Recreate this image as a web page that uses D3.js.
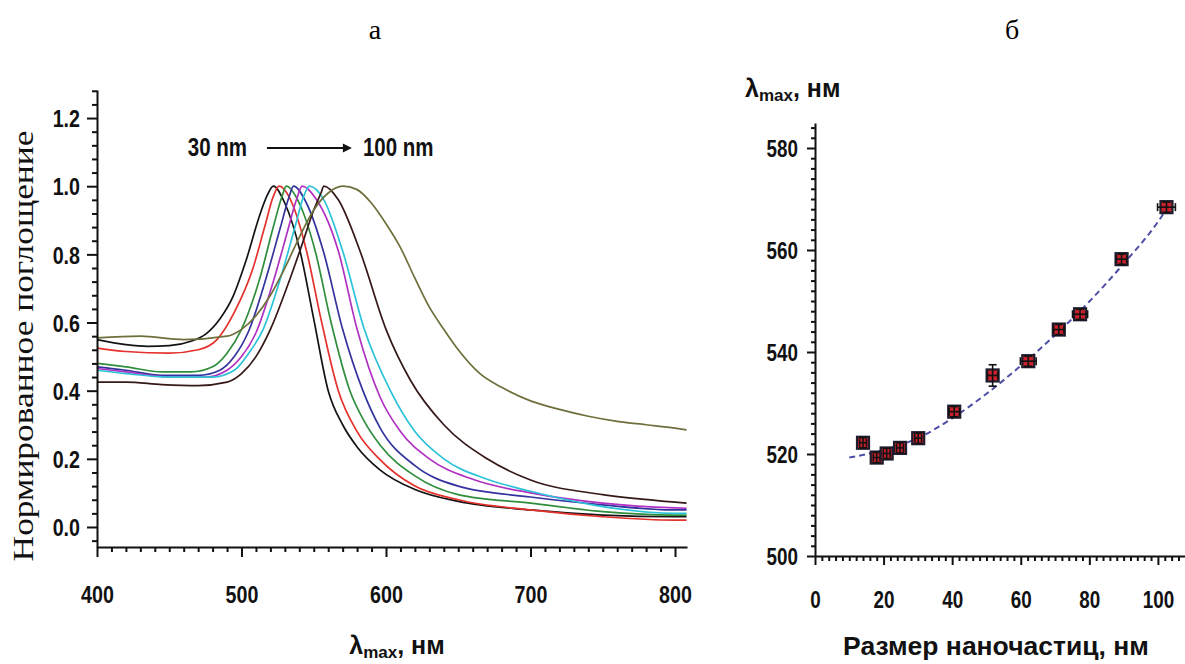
<!DOCTYPE html>
<html><head><meta charset="utf-8">
<script src="https://cdn.jsdelivr.net/npm/d3@7"></script>
<style>body{margin:0;background:#fff}svg{display:block}</style>
</head><body>
<svg id="chart" width="1185" height="664"></svg>
<script>
// ---- Panel a: normalised absorption spectra, [wavelength nm, absorbance] ----
const specBlack = [[400,0.55],[420,0.535],[435,0.53],[450,0.532],[465,0.545],[475,0.565],[485,0.61],[494,0.675],[503,0.78],[513,0.92],[518,0.975],[522,1.0],[530,0.95],[540.5,0.81],[550,0.61],[560,0.40],[570,0.30],[580,0.235],[596,0.167],[620,0.11],[650,0.075],[700,0.05],[750,0.035],[800,0.03],[808,0.03]];
const specRed = [[400,0.525],[420,0.515],[450,0.51],[470,0.52],[483,0.55],[495,0.63],[508,0.76],[516,0.88],[522,0.97],[526,1.0],[535,0.95],[545,0.81],[555,0.61],[567,0.40],[580,0.28],[596,0.197],[620,0.12],[650,0.08],[700,0.05],[750,0.03],[800,0.02],[808,0.02]];
const specGreen = [[400,0.48],[420,0.47],[445,0.455],[465,0.455],[480,0.47],[490,0.51],[500,0.58],[512,0.72],[522,0.88],[528,0.97],[531,1.0],[540,0.95],[551,0.81],[562,0.60],[575,0.40],[585,0.31],[596,0.24],[620,0.15],[650,0.095],[700,0.07],[750,0.045],[800,0.035],[808,0.035]];
const specBlue = [[400,0.47],[420,0.46],[445,0.445],[470,0.445],[485,0.46],[495,0.50],[505,0.575],[517,0.73],[527,0.88],[533,0.97],[536,1.0],[545,0.95],[556.6,0.81],[570,0.58],[584,0.40],[596,0.29],[620,0.18],[650,0.12],[700,0.088],[750,0.065],[800,0.05],[808,0.05]];
const specPurple = [[400,0.465],[420,0.455],[450,0.44],[475,0.44],[490,0.46],[500,0.50],[510,0.57],[522,0.72],[532,0.87],[538,0.96],[542,1.0],[552,0.96],[567,0.81],[580,0.58],[596,0.38],[610,0.28],[630,0.20],[660,0.14],[700,0.10],[750,0.07],[800,0.056],[808,0.055]];
const specCyan = [[400,0.46],[420,0.45],[450,0.44],[480,0.44],[495,0.46],[505,0.51],[515,0.58],[527,0.73],[537,0.88],[543,0.97],[547,1.0],[557,0.96],[570,0.81],[585,0.58],[603,0.40],[620,0.28],[640,0.20],[670,0.14],[700,0.105],[750,0.06],[800,0.04],[808,0.04]];
const specBrown = [[400,0.425],[420,0.425],[445,0.418],[470,0.415],[490,0.425],[500,0.45],[510,0.50],[520,0.58],[532,0.71],[542,0.83],[550,0.93],[555,0.98],[557,1.0],[567,0.96],[582,0.81],[600,0.58],[617,0.43],[640,0.30],[670,0.20],[700,0.138],[750,0.095],[800,0.073],[808,0.07]];
const specOlive = [[400,0.555],[430,0.56],[460,0.55],[490,0.56],[500,0.58],[510,0.62],[520,0.68],[530,0.76],[540,0.85],[550,0.93],[560,0.98],[570,1.0],[580,0.99],[590,0.95],[600,0.89],[610,0.82],[620,0.73],[630,0.645],[640,0.58],[650,0.52],[665,0.45],[680,0.41],[700,0.37],[720,0.345],[740,0.325],[760,0.31],[780,0.30],[800,0.29],[808,0.285]];

const spectra = [specBlack, specRed, specGreen, specBlue, specPurple, specCyan, specBrown, specOlive];
const spectraColors = ["#141414", "#e5312c", "#2f8d3c", "#33339e", "#b031c2", "#2cc3d8", "#361818", "#6f6f3c"];

const xTicksA = [400, 500, 600, 700, 800];
const yTicksA = [0.0, 0.2, 0.4, 0.6, 0.8, 1.0, 1.2];

// ---- Panel б: peak position vs particle size ----
const sizes     = [14.0, 18.0, 20.9, 24.8, 30.1, 40.6, 51.8, 62.2, 71.1, 77.3, 89.4, 102.5];
const peaks     = [522.2, 519.3, 520.1, 521.2, 523.1, 528.3, 535.4, 538.2, 544.4, 547.4, 558.2, 568.4];
const sizeErr   = [1.0, 1.0, 1.0, 1.0, 1.0, 1.5, 1.5, 2.3, 1.5, 2.2, 1.5, 2.6];
const peakErr   = [1.0, 1.0, 1.0, 1.0, 1.0, 1.0, 2.1, 1.0, 1.0, 1.0, 1.0, 1.0];
const fitSizes  = [10, 20, 30, 40, 50, 60, 70, 80, 90, 100, 103];
const fitPeaks  = [519.3, 520.8, 523.1, 527.0, 531.8, 537.3, 543.3, 549.9, 557.3, 565.5, 568.5];

const xTicksB = [0, 20, 40, 60, 80, 100];
const yTicksB = [500, 520, 540, 560, 580];

const svg = d3.select("#chart");
const tickFont = "'Liberation Sans', Arial, sans-serif";
const serif = "'Liberation Serif', 'Times New Roman', serif";

// panel letters
svg.append("text").attr("x", 375).attr("y", 39).attr("text-anchor", "middle")
  .attr("font-family", serif).attr("font-size", 28).text("а");
svg.append("text").attr("x", 1012).attr("y", 39).attr("text-anchor", "middle")
  .attr("font-family", serif).attr("font-size", 28).text("б");

function styleAxis(g) {
  g.selectAll("path, line").attr("stroke", "#111").attr("stroke-width", 2);
}
function condenseX(g, fs, baseline) {
  g.selectAll("text").attr("font-family", tickFont).attr("font-weight", "bold")
    .attr("font-size", fs).attr("fill", "#111")
    .attr("y", baseline).attr("dy", 0).attr("transform", "scale(0.82,1)");
}
function condenseY(g, fs, offset) {
  g.selectAll("text").attr("font-family", tickFont).attr("font-weight", "bold")
    .attr("font-size", fs).attr("fill", "#111")
    .attr("x", -offset / 0.82).attr("dy", "0.36em").attr("transform", "scale(0.82,1)");
}
function range(a, b, s) { const r = []; for (let v = a; v <= b + 1e-9; v += s) r.push(+v.toFixed(4)); return r; }

// ================= Panel a =================
const xA = d3.scaleLinear().domain([400, 808.3]).range([97, 687]);
const yA = d3.scaleLinear().domain([-0.0587, 1.2823]).range([547, 90]);

const gA = svg.append("g");

const lineA = d3.line().x(d => xA(d[0])).y(d => yA(d[1])).curve(d3.curveMonotoneX);
gA.append("g").selectAll("path").data(spectra).join("path")
  .attr("d", lineA).attr("fill", "none")
  .attr("stroke", (d, i) => spectraColors[i]).attr("stroke-width", 1.7)
  .attr("stroke-linejoin", "round");

// minor ticks
gA.append("g").attr("transform", "translate(0,547)")
  .call(d3.axisBottom(xA).tickValues(range(410, 800, 10).filter(v => v % 100 !== 0)).tickSize(5).tickFormat("").tickSizeOuter(0))
  .call(g => g.select(".domain").remove()).call(styleAxis);
gA.append("g").attr("transform", "translate(97,0)")
  .call(d3.axisLeft(yA).tickValues(range(-0.04, 1.28, 0.04).filter(v => Math.abs(v * 5 - Math.round(v * 5)) > 1e-6)).tickSize(5).tickFormat("").tickSizeOuter(0))
  .call(g => g.select(".domain").remove()).call(styleAxis);
// major ticks + labels
gA.append("g").attr("transform", "translate(0,547)")
  .call(d3.axisBottom(xA).tickValues(xTicksA).tickSize(10).tickSizeOuter(0).tickFormat(d3.format("d")))
  .call(styleAxis).call(g => condenseX(g, 24, 56));
gA.append("g").attr("transform", "translate(97,0)")
  .call(d3.axisLeft(yA).tickValues(yTicksA).tickSize(10).tickSizeOuter(0).tickFormat(d3.format(".1f")))
  .call(styleAxis).call(g => condenseY(g, 24, 17));

// size annotation
const annY = yA(1.112);
gA.append("text").attr("x", xA(503.8) / 0.82).attr("y", annY + 8).attr("text-anchor", "end")
  .attr("transform", "scale(0.82,1)").attr("font-family", tickFont).attr("font-weight", "bold")
  .attr("font-size", 25).attr("fill", "#111").text("30 nm");
gA.append("text").attr("x", xA(584) / 0.82).attr("y", annY + 8).attr("text-anchor", "start")
  .attr("transform", "scale(0.82,1)").attr("font-family", tickFont).attr("font-weight", "bold")
  .attr("font-size", 25).attr("fill", "#111").text("100 nm");
gA.append("line").attr("x1", xA(517.6)).attr("x2", xA(571)).attr("y1", annY).attr("y2", annY)
  .attr("stroke", "#111").attr("stroke-width", 2);
gA.append("path")
  .attr("d", `M${xA(576.4)},${annY} L${xA(576.4) - 9},${annY - 4.5} L${xA(576.4) - 9},${annY + 4.5} Z`)
  .attr("fill", "#111");

// axis titles
svg.append("text").attr("transform", "translate(33,346) rotate(-90) scale(1.18,1)").attr("text-anchor", "middle")
  .attr("font-family", serif).attr("font-size", 30).attr("fill", "#111").text("Нормированное поглощение");

function lambdaLabel(x, y, anchor) {
  const t = svg.append("text").attr("x", x).attr("y", y).attr("text-anchor", anchor)
    .attr("font-family", tickFont).attr("font-weight", "bold").attr("font-size", 25).attr("fill", "#111");
  t.append("tspan").text("λ");
  t.append("tspan").attr("font-size", 17).attr("dy", 4).text("max");
  t.append("tspan").attr("dy", -4).text(", нм");
}
lambdaLabel(397, 654, "middle");

// ================= Panel б =================
const xB = d3.scaleLinear().domain([0, 107.9]).range([815, 1185]);
const yB = d3.scaleLinear().domain([500, 584.9]).range([556, 123]);
const gB = svg.append("g");

gB.append("g").attr("transform", "translate(0,556)")
  .call(d3.axisBottom(xB).tickValues(range(2, 106, 2).filter(v => v % 20 !== 0)).tickSize(5).tickFormat("").tickSizeOuter(0))
  .call(g => g.select(".domain").remove()).call(styleAxis);
gB.append("g").attr("transform", "translate(815,0)")
  .call(d3.axisLeft(yB).tickValues(range(502, 584, 2).filter(v => v % 20 !== 0)).tickSize(4).tickFormat("").tickSizeOuter(0))
  .call(g => g.select(".domain").remove()).call(styleAxis);
gB.append("g").attr("transform", "translate(0,556)")
  .call(d3.axisBottom(xB).tickValues(xTicksB).tickSize(9).tickSizeOuter(0).tickFormat(d3.format("d")))
  .call(styleAxis).call(g => condenseX(g, 23, 52));
gB.append("g").attr("transform", "translate(815,0)")
  .call(d3.axisLeft(yB).tickValues(yTicksB).tickSize(8).tickSizeOuter(0).tickFormat(d3.format("d")))
  .call(styleAxis).call(g => condenseY(g, 23, 17));

// fitted trend
gB.append("path").datum(fitSizes.map((s, i) => [s, fitPeaks[i]]))
  .attr("d", d3.line().x(d => xB(d[0])).y(d => yB(d[1])).curve(d3.curveMonotoneX))
  .attr("fill", "none").attr("stroke", "#4e4ea6").attr("stroke-width", 2).attr("stroke-dasharray", "6,4");

// measured points with error bars
const pts = gB.append("g").selectAll("g").data(sizes.map((s, i) => ({ s, p: peaks[i], es: sizeErr[i], ep: peakErr[i] })))
  .join("g").attr("transform", d => `translate(${xB(d.s)},${yB(d.p)})`);
pts.append("rect").attr("x", -6).attr("y", -6).attr("width", 12).attr("height", 12)
  .attr("fill", "#c8202c").attr("stroke", "#1d1d2e").attr("stroke-width", 2.2);
pts.each(function (d) {
  const g = d3.select(this);
  const hx = xB(d.s + d.es) - xB(d.s);
  const hy = yB(d.p) - yB(d.p + d.ep);
  const seg = (x1, y1, x2, y2) => g.append("line").attr("x1", x1).attr("y1", y1).attr("x2", x2).attr("y2", y2)
    .attr("stroke", "#111").attr("stroke-width", 1.6);
  seg(-hx, 0, hx, 0); seg(-hx, -4, -hx, 4); seg(hx, -4, hx, 4);
  seg(0, -hy, 0, hy); seg(-4, -hy, 4, -hy); seg(-4, hy, 4, hy);
});

lambdaLabel(745, 97, "start");
svg.append("text").attr("x", 996).attr("y", 655).attr("text-anchor", "middle")
  .attr("font-family", tickFont).attr("font-weight", "bold").attr("font-size", 26.5).attr("fill", "#111")
  .text("Размер наночастиц, нм");
</script></body></html>
